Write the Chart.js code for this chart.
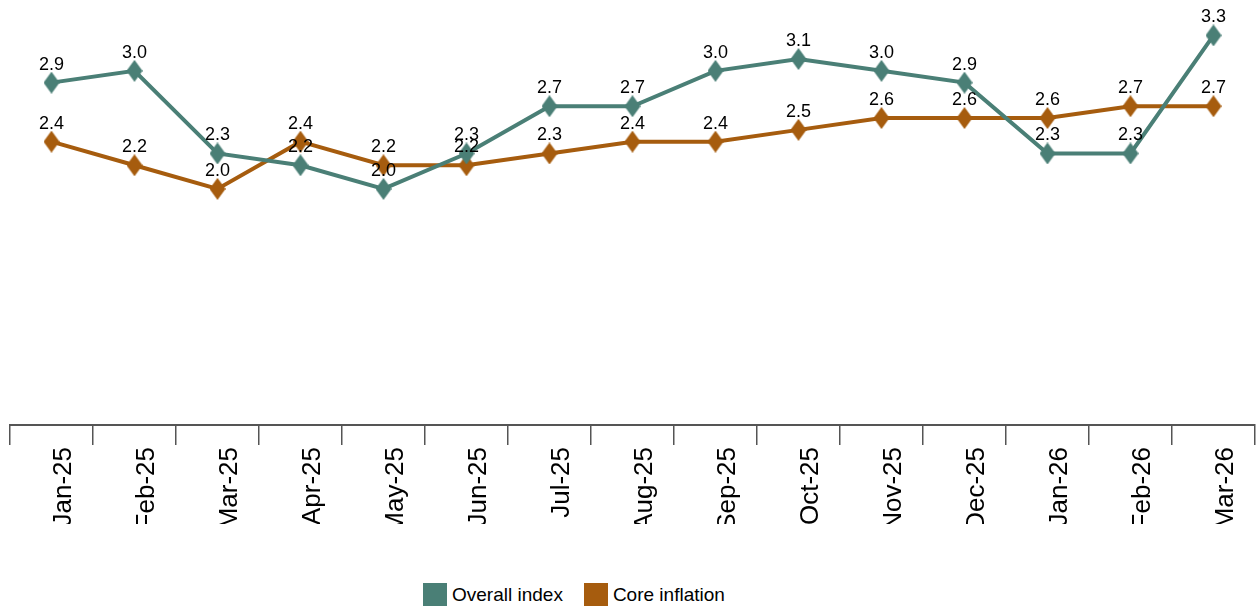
<!DOCTYPE html>
<html>
<head>
<meta charset="utf-8">
<script src="https://cdn.jsdelivr.net/npm/chart.js@4"></script>
<style>
  html, body { margin: 0; padding: 0; background: #fff; }
  #page { position: relative; width: 1257px; height: 607px; overflow: hidden; }
  #wrap { position: absolute; left: 0; top: 0; width: 1257px; height: 524px; }
  #legend { position: absolute; top: 583px; left: 423px; display: flex; align-items: center;
            font-family: "Liberation Sans", Arial, sans-serif; font-size: 19px; color: #000; }
  .item { display: flex; align-items: center; margin-right: 21px; }
  .box { width: 24px; height: 23px; margin-right: 5px; }
</style>
</head>
<body>
<div id="page">
  <div id="wrap"><canvas id="chart"></canvas></div>
  <div id="legend"></div>
</div>
<script>
const months = ['Jan-25','Feb-25','Mar-25','Apr-25','May-25','Jun-25','Jul-25','Aug-25','Sep-25','Oct-25','Nov-25','Dec-25','Jan-26','Feb-26','Mar-26'];
const overallIndex = [2.9, 3.0, 2.3, 2.2, 2.0, 2.3, 2.7, 2.7, 3.0, 3.1, 3.0, 2.9, 2.3, 2.3, 3.3];
const coreInflation = [2.4, 2.2, 2.0, 2.4, 2.2, 2.2, 2.3, 2.4, 2.4, 2.5, 2.6, 2.6, 2.6, 2.7, 2.7];

const TEAL = '#4a7f76';
const ORANGE = '#a65c0e';

// diamond marker, a bit taller than wide
function diamond(color) {
    const c = document.createElement('canvas');
    c.width = 16; c.height = 22;
    const g = c.getContext('2d');
    g.fillStyle = color;
    g.beginPath();
    g.moveTo(8, 0); g.lineTo(16, 11); g.lineTo(8, 22); g.lineTo(0, 11);
    g.closePath();
    g.fill();
    return c;
}

// value labels above each point
const valueLabels = {
    id: 'valueLabels',
    afterDatasetsDraw(chart) {
        const ctx = chart.ctx;
        ctx.save();
        ctx.font = '18px "Liberation Sans", Arial, sans-serif';
        ctx.fillStyle = '#000';
        ctx.textAlign = 'center';
        ctx.textBaseline = 'alphabetic';
        chart.data.datasets.forEach((ds, i) => {
            const meta = chart.getDatasetMeta(i);
            meta.data.forEach((pt, j) => {
                ctx.fillText(ds.data[j].toFixed(1), pt.x, pt.y - 13);
            });
        });
        ctx.restore();
    }
};

const ctx = document.getElementById('chart').getContext('2d');
const chart = new Chart(ctx, {
    type: 'line',
    data: {
        labels: months,
        datasets: [
            {
                label: 'Overall index',
                data: overallIndex,
                borderColor: TEAL,
                backgroundColor: TEAL,
                borderWidth: 4,
                pointStyle: diamond(TEAL),
                pointRadius: 9,
                tension: 0,
                clip: false
            },
            {
                label: 'Core inflation',
                data: coreInflation,
                borderColor: ORANGE,
                backgroundColor: ORANGE,
                borderWidth: 4,
                pointStyle: diamond(ORANGE),
                pointRadius: 9,
                tension: 0,
                clip: false
            }
        ]
    },
    options: {
        responsive: true,
        maintainAspectRatio: false,
        animation: false,
        layout: { autoPadding: false, padding: { left: 10, right: 2, top: 0, bottom: 0 } },
        scales: {
            x: {
                offset: true,
                grid: {
                    offset: true,
                    drawOnChartArea: false,
                    drawTicks: true,
                    tickLength: 20,
                    color: '#555',
                    lineWidth: 1.5
                },
                border: { display: true, color: '#555', width: 2 },
                ticks: {
                    minRotation: 90,
                    maxRotation: 90,
                    padding: 2,
                    labelOffset: 12,
                    color: '#000',
                    font: { family: '"Liberation Sans", Arial, sans-serif', size: 26 }
                },
                afterFit(scale) { scale.height = 99; }
            },
            y: {
                display: false,
                min: 0,
                max: 3.6
            }
        },
        plugins: {
            legend: { display: false },
            tooltip: { enabled: false }
        }
    },
    plugins: [valueLabels]
});

// legend below the chart
const legendEl = document.getElementById('legend');
chart.data.datasets.forEach(ds => {
    const item = document.createElement('div');
    item.className = 'item';
    item.innerHTML = `<span class="box" style="background:${ds.borderColor}"></span><span>${ds.label}</span>`;
    legendEl.appendChild(item);
});
</script>
</body>
</html>
